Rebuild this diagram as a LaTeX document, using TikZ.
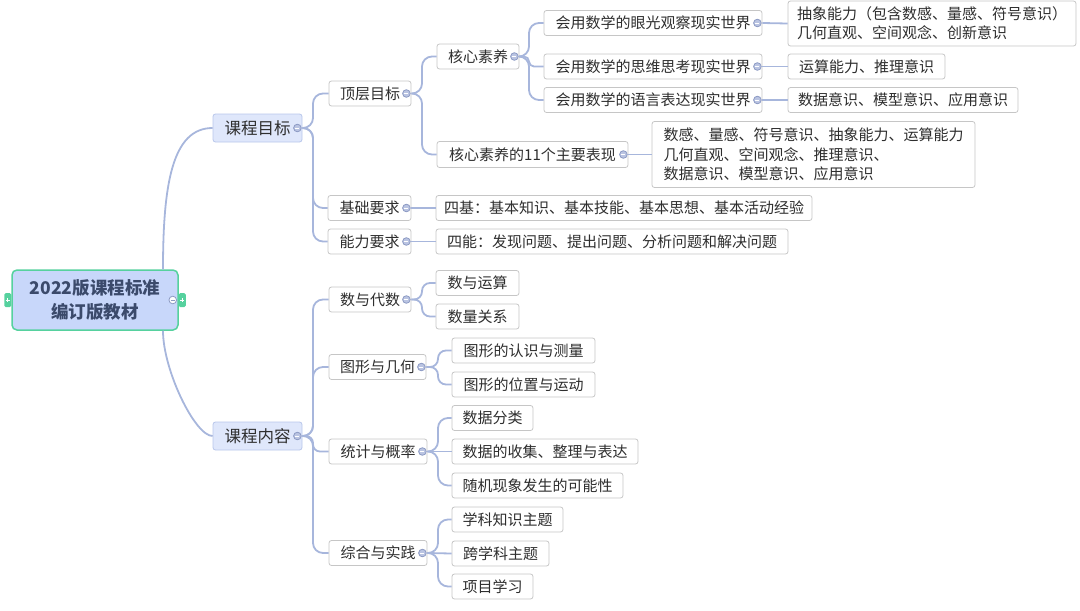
\documentclass[tikz,border=0pt]{standalone}
\usepackage{fontspec}
\newfontfamily\cjk{Noto Sans CJK SC}
\definecolor{lineblue}{HTML}{A7B6DC}
\definecolor{boxgray}{HTML}{C6C6C6}
\definecolor{txt}{HTML}{2E2E2E}
\definecolor{lonefill}{HTML}{DFE7FB}
\definecolor{loneborder}{HTML}{B8C6EA}
\definecolor{rootfill}{HTML}{C8D7FA}
\definecolor{rootborder}{HTML}{56D19E}
\definecolor{roottext}{HTML}{3B4A6B}
\definecolor{mkfill}{HTML}{BAC4E2}
\definecolor{mkline}{HTML}{8D9BC4}
\tikzset{
  box/.style={draw=boxgray, fill=white, rounded corners=2.5pt, line width=0.8pt, inner sep=0pt,
    minimum height=25pt, font=\cjk\fontsize{15}{19}\selectfont, text=txt},
  lvlone/.style={box, draw=loneborder, fill=lonefill, font=\cjk\fontsize{16.5}{20}\selectfont, minimum height=28pt},
  rootbox/.style={draw=rootborder, fill=rootfill, rounded corners=5pt, line width=1.5pt, inner sep=0pt,
    minimum width=166pt, minimum height=60pt, align=center, text=roottext,
    font=\cjk\bfseries\fontsize{17.5}{24}\selectfont},
  link/.style={draw=lineblue, line width=1.8pt},
  mk/.pic={\draw[fill=mkfill, draw=mkline, line width=0.8pt] (0,0) circle (3.8pt);
           \draw[white, line width=1pt] (-2pt,0) -- (2pt,0);},
}
\newcommand\cnx[4]{\draw[link, rounded corners=#4] (#1.east) -- (#1.east -| #3,0) |- (#2.west);}
\begin{document}
\begin{tikzpicture}[x=1pt,y=-1pt]
\useasboundingbox (0,0) rectangle (1080,611);
% root
\node[rootbox] (root) at (95,300) {2022版课程标准\\编订版教材};
% level 1
\node[lvlone, minimum width=89pt] (goal) at (257.5,128) {课程目标};
\node[lvlone, minimum width=89pt] (content) at (257.5,436) {课程内容};
% level 2 under goal
\node[box, minimum width=82pt] (top) at (370,93.5) {顶层目标};
\node[box, minimum width=83pt] (base) at (369.5,208) {基础要求};
\node[box, minimum width=83pt] (ability) at (369.5,241.5) {能力要求};
% level 3
\node[box, minimum width=82pt] (core) at (478,56.5) {核心素养};
\node[box, minimum width=191pt, minimum height=26pt] (core11) at (532.5,154.5) {核心素养的11个主要表现};
\node[box, minimum width=218pt] (c1) at (653,23) {会用数学的眼光观察现实世界};
\node[box, minimum width=218pt] (c2) at (653,66.5) {会用数学的思维思考现实世界};
\node[box, minimum width=218pt] (c3) at (653,100) {会用数学的语言表达现实世界};
\node[box, minimum width=288pt, minimum height=45pt, align=left] (d1) at (932,23.5) {抽象能力（包含数感、量感、符号意识）\\几何直观、空间观念、创新意识};
\node[box, minimum width=157pt] (d2) at (866.5,66.5) {运算能力、推理意识};
\node[box, minimum width=230pt] (d3) at (903,100) {数据意识、模型意识、应用意识};
\node[box, minimum width=323pt, minimum height=66pt, align=left, font=\cjk\fontsize{15}{19.5}\selectfont] (e1) at (813.5,154.5) {数感、量感、符号意识、抽象能力、运算能力\\几何直观、空间观念、推理意识、\\数据意识、模型意识、应用意识};
\node[box, minimum width=376pt] (f1) at (624,208) {四基：基本知识、基本技能、基本思想、基本活动经验};
\node[box, minimum width=352pt] (g1) at (612,241.5) {四能：发现问题、提出问题、分析问题和解决问题};
% level 2 under content
\node[box, minimum width=82pt] (alg) at (370,299.5) {数与代数};
\node[box, minimum width=97pt] (geo) at (377.5,367) {图形与几何};
\node[box, minimum width=98pt] (stat) at (378,451.5) {统计与概率};
\node[box, minimum width=98pt] (prac) at (378,553) {综合与实践};
\node[box, minimum width=83pt] (a1) at (477.5,283) {数与运算};
\node[box, minimum width=83pt] (a2) at (477.5,316.5) {数量关系};
\node[box, minimum width=143pt] (ga) at (523.5,350.5) {图形的认识与测量};
\node[box, minimum width=143pt] (gb) at (523.5,384.5) {图形的位置与运动};
\node[box, minimum width=81pt] (s1) at (492.5,418) {数据分类};
\node[box, minimum width=186pt] (s2) at (545,451.5) {数据的收集、整理与表达};
\node[box, minimum width=171pt] (s3) at (537.5,485.5) {随机现象发生的可能性};
\node[box, minimum width=111pt] (p1) at (507.5,519.5) {学科知识主题};
\node[box, minimum width=97pt] (p2) at (500.5,553.5) {跨学科主题};
\node[box, minimum width=81pt] (p3) at (492.5,586.5) {项目学习};
% connectors from root
\draw[link] ([xshift=68pt]root.north) .. controls (163,185) and (172,128) .. (goal.west);
\draw[link] ([xshift=68pt]root.south) .. controls (163,370) and (195,436) .. (content.west);
% goal branch
\cnx{goal}{top}{313}{10}
\cnx{goal}{base}{313}{10}
\cnx{goal}{ability}{313}{10}
\cnx{top}{core}{422}{10}
\cnx{top}{core11}{422}{10}
\cnx{core}{c1}{529}{10}
\cnx{core}{c2}{529}{5}
\cnx{core}{c3}{529}{10}
\draw[link] (c1.east) -- (d1.west);
\draw[link] (c2.east) -- (d2.west);
\draw[link] (c3.east) -- (d3.west);
\draw[link] (core11.east) -- (e1.west);
\draw[link] (base.east) -- (f1.west);
\draw[link] (ability.east) -- (g1.west);
% content branch
\cnx{content}{alg}{313}{10}
\cnx{content}{geo}{313}{10}
\cnx{content}{stat}{313}{7}
\cnx{content}{prac}{313}{10}
\cnx{alg}{a1}{422}{8}
\cnx{alg}{a2}{422}{8}
\cnx{geo}{ga}{438}{8}
\cnx{geo}{gb}{438}{8}
\cnx{stat}{s1}{438}{10}
\draw[link] (stat.east) -- (s2.west);
\cnx{stat}{s3}{438}{10}
\cnx{prac}{p1}{438}{10}
\draw[link] (prac.east) -- (p2.west);
\cnx{prac}{p3}{438}{10}
% markers
\foreach \n in {goal,content,top,base,ability,core,core11,c1,c2,c3,alg,geo,stat,prac}
  \pic at ([xshift=-5pt]\n.east) {mk};
% root decorations
\draw[fill=white, draw=mkline, line width=0.8pt] ([xshift=-6pt]root.east) circle (3.8pt);
\draw[mkline, line width=1pt] ([xshift=-8pt]root.east) -- ([xshift=-4pt]root.east);
\fill[rootborder, rounded corners=1.5pt] ([xshift=-7pt,yshift=7pt]root.west) rectangle ([yshift=-7pt]root.west);
\fill[rootborder, rounded corners=1.5pt] ([yshift=7pt]root.east) rectangle ([xshift=7pt,yshift=-7pt]root.east);
\draw[white, line width=0.6pt] ([xshift=-5.5pt]root.west) -- ([xshift=-1.5pt]root.west) ([xshift=-3.5pt,yshift=2pt]root.west) -- ([xshift=-3.5pt,yshift=-2pt]root.west);
\draw[white, line width=0.6pt] ([xshift=1.5pt]root.east) -- ([xshift=5.5pt]root.east) ([xshift=3.5pt,yshift=2pt]root.east) -- ([xshift=3.5pt,yshift=-2pt]root.east);
\end{tikzpicture}
\end{document}
